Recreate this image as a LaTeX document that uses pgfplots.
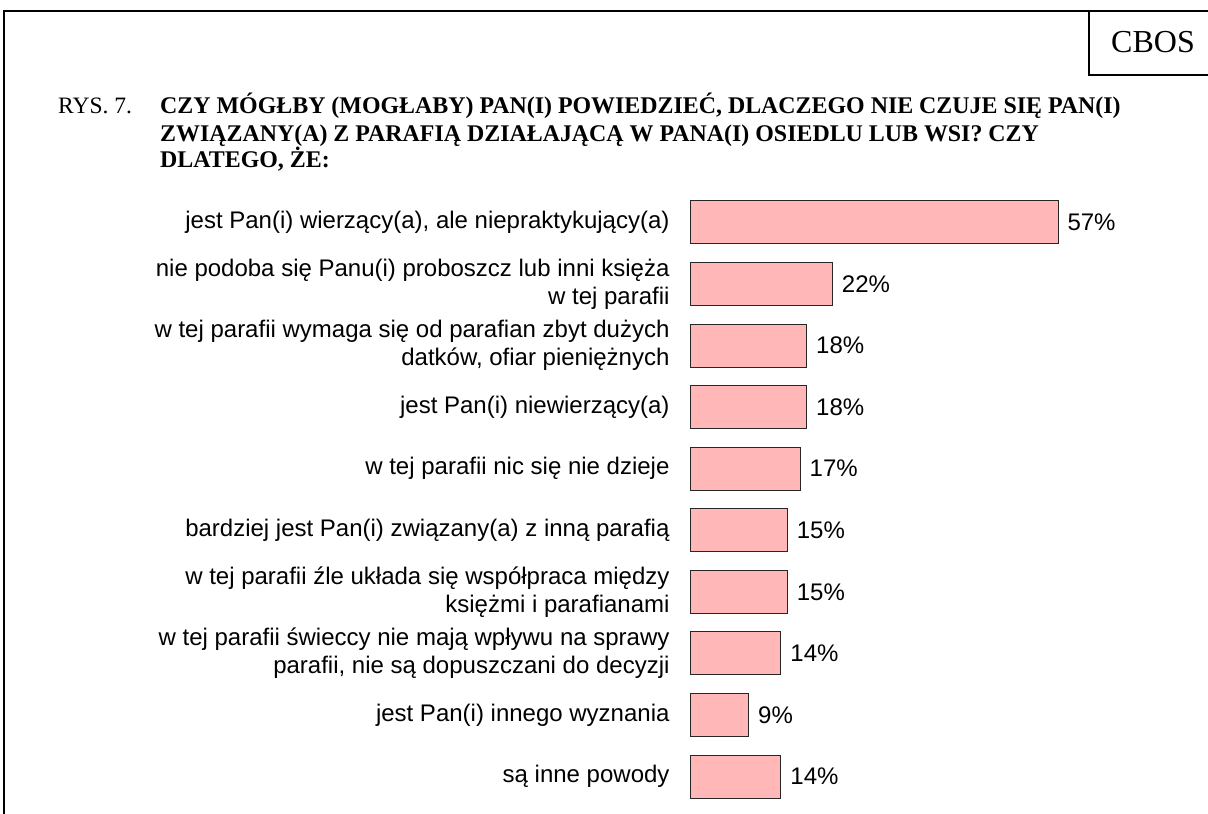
\documentclass[border=0pt]{standalone}
\usepackage{fontspec}
\setmainfont{Liberation Serif}
\setsansfont{Liberation Sans}
\usepackage{pgfplots}
\pgfplotsset{compat=1.18}
\definecolor{barpink}{RGB}{255,183,183}
\begin{document}
\begin{tikzpicture}[x=1pt,y=1pt]
\useasboundingbox (0,0) rectangle (1208,814);
% frame
\draw[line width=2.4pt] (4,-5) -- (4,803) -- (1212,803);
\draw[line width=2.4pt] (1089,803) -- (1089,739) -- (1212,739);
\node[anchor=base,inner sep=0pt,font=\fontsize{32}{36}\selectfont] at (1153,761) {CBOS};
% title
\node[anchor=base west,inner sep=0pt,font=\fontsize{23.5}{27}\selectfont] at (58,700) {RYS. 7.};
\node[anchor=base west,inner sep=0pt,font=\fontsize{23.9}{27}\selectfont\bfseries] at (160,700) {CZY MÓGŁBY (MOGŁABY) PAN(I) POWIEDZIEĆ, DLACZEGO NIE CZUJE SIĘ PAN(I)};
\node[anchor=base west,inner sep=0pt,font=\fontsize{23.9}{27}\selectfont\bfseries] at (160,672.5) {ZWIĄZANY(A) Z PARAFIĄ DZIAŁAJĄCĄ W PANA(I) OSIEDLU LUB WSI? CZY};
\node[anchor=base west,inner sep=0pt,font=\fontsize{23.9}{27}\selectfont\bfseries] at (160,646) {DLATEGO, ŻE:};
\begin{axis}[
  at={(690.7pt,6.7pt)}, anchor=south west,
  scale only axis, width=367.3pt, height=615.6pt,
  xmin=0, xmax=57, ymin=-0.5, ymax=9.5,
  y dir=reverse, clip=false,
  xbar, bar width=43pt,
  axis line style={draw=none},
  major tick length=0pt,
  xtick=\empty,
  ytick={0,...,9},
  yticklabels={
    {jest Pan(i) wierzący(a), ale niepraktykujący(a)},
    {nie podoba się Panu(i) proboszcz lub inni księża\\w tej parafii},
    {w tej parafii wymaga się od parafian zbyt dużych\\datków, ofiar pieniężnych},
    {jest Pan(i) niewierzący(a)},
    {w tej parafii nic się nie dzieje},
    {bardziej jest Pan(i) związany(a) z inną parafią},
    {w tej parafii źle układa się współpraca między\\księżmi i parafianami},
    {w tej parafii świeccy nie mają wpływu na sprawy\\parafii, nie są dopuszczani do decyzji},
    {jest Pan(i) innego wyznania},
    {są inne powody}
  },
  yticklabel style={align=right, inner sep=0pt, xshift=-21pt,
    font=\fontsize{24}{28}\selectfont\sffamily},
  /pgf/number format/assume math mode=true,
  point meta=x,
  nodes near coords={\pgfmathprintnumber{\pgfplotspointmeta}\%},
  every node near coord/.append style={anchor=west, inner sep=0pt, xshift=9pt,
    font=\fontsize{24}{28}\selectfont\sffamily, text=black},
]
\addplot[fill=barpink, draw=black!85, line width=1pt] coordinates {
  (57,0) (22,1) (18,2) (18,3) (17,4) (15,5) (15,6) (14,7) (9,8) (14,9)
};
\end{axis}
\end{tikzpicture}
\end{document}
